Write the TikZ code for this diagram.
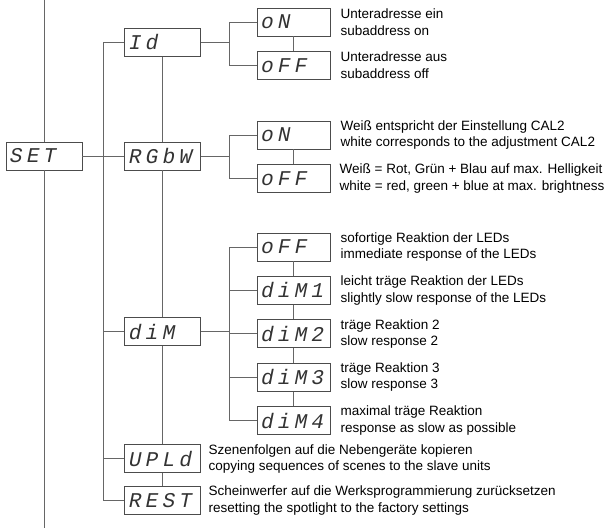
\documentclass[tikz,border=0pt]{standalone}
\usepackage{fontspec}
\setmainfont{Liberation Sans}
\newfontfamily\segfont[FakeSlant=0.2,LetterSpace=20]{Liberation Mono}
\usetikzlibrary{positioning}

\begin{document}
\begin{tikzpicture}[
  x=1pt, y=-1pt,
  node distance=14.5pt,
  wire/.style={draw=black!60, line width=1pt},
  seg/.style={draw=black!70, line width=0.9pt, align=left, inner xsep=3pt, inner ysep=0pt,
    minimum height=28pt, text=black!80, font=\segfont\fontsize{21}{21}\selectfont},
  menu/.style={seg, text width=70pt},
  sub/.style={seg, text width=67pt},
  note/.style={align=left, inner sep=0pt, font=\fontsize{13.5}{16.5}\selectfont}
]
\useasboundingbox (0,0) rectangle (608,528);

% main menu
\node[menu] (set) at (44,156) {SET};
\node[menu, right=42pt of set] (rgbw) {RGbW};
\node[menu, above=85pt of rgbw] (id) {Id};
\node[menu, below=147pt of rgbw] (dim) {diM};
\node[menu, below=98pt of dim] (upld) {UPLd};
\node[menu, below=13pt of upld] (rest) {REST};

% sub menus
\node[sub] (idon) at (293.5,22) {oN};
\node[sub, below=of idon] (idoff) {oFF};
\node[sub] (rgon) at (293.5,135) {oN};
\node[sub, below=of rgon] (rgoff) {oFF};
\node[sub] (dim0) at (293.5,247) {oFF};
\node[sub, below=of dim0] (dim1) {diM1};
\node[sub, below=of dim1] (dim2) {diM2};
\node[sub, below=of dim2] (dim3) {diM3};
\node[sub, below=of dim3] (dim4) {diM4};

% notes
\node[note, right=10pt of idon] (nidon) {Unteradresse ein\\subaddress on};
\node[note, right=10pt of idoff] (nidoff) {Unteradresse aus\\subaddress off};
\node[note, right=10pt of rgon] (nrgon) {Weiß entspricht der Einstellung CAL2\\white corresponds to the adjustment CAL2};
\node[note, right=9pt of rgoff] (nrgoff) {Weiß = Rot, Grün + Blau auf max. Helligkeit\\white = red, green + blue at max. brightness};
\node[note, right=10pt of dim0] (ndim0) {sofortige Reaktion der LEDs\\immediate response of the LEDs};
\node[note, right=10pt of dim1] (ndim1) {leicht träge Reaktion der LEDs\\slightly slow response of the LEDs};
\node[note, right=10pt of dim2] (ndim2) {träge Reaktion 2\\slow response 2};
\node[note, right=10pt of dim3] (ndim3) {träge Reaktion 3\\slow response 3};
\node[note, right=10pt of dim4] (ndim4) {maximal träge Reaktion\\response as slow as possible};
\node[note, right=7pt of upld] (nupld) {Szenenfolgen auf die Nebengeräte kopieren\\copying sequences of scenes to the slave units};
\node[note, right=7pt of rest] (nrest) {Scheinwerfer auf die Werksprogrammierung zurücksetzen\\resetting the spotlight to the factory settings};

% connectors
\coordinate (top) at (44,0);
\coordinate (bot) at (44,528);
\draw[wire] (top) -- (set);
\draw[wire] (set) -- (bot);
\draw[wire] (set) -- (rgbw);
\draw[wire] (id.west) -- ++(-21,0) coordinate (lbus) |- (rest.west);
\draw[wire] (lbus |- dim.west) -- (dim.west);
\draw[wire] (lbus |- upld.west) -- (upld.west);
\draw[wire] (id) -- (rgbw);
\draw[wire] (rgbw) -- (dim);
\draw[wire] (dim) -- (upld);
\draw[wire] (upld) -- (rest);

\draw[wire] (id.east) -- ++(28,0) coordinate (idbus);
\draw[wire] (idon.west) -| (idbus) |- (idoff.west);
\draw[wire] (idon) -- (idoff);

\draw[wire] (rgbw.east) -- ++(28,0) coordinate (rgbus);
\draw[wire] (rgon.west) -| (rgbus) |- (rgoff.west);
\draw[wire] (rgon) -- (rgoff);

\draw[wire] (dim.east) -- ++(28,0) coordinate (dimbus);
\draw[wire] (dimbus |- dim0.west) -- (dimbus |- dim4.west);
\foreach \n in {0,...,4}
  \draw[wire] (dimbus |- dim\n.west) -- (dim\n.west);
\foreach \a/\b in {0/1,1/2,2/3,3/4}
  \draw[wire] (dim\a) -- (dim\b);
\end{tikzpicture}
\end{document}
